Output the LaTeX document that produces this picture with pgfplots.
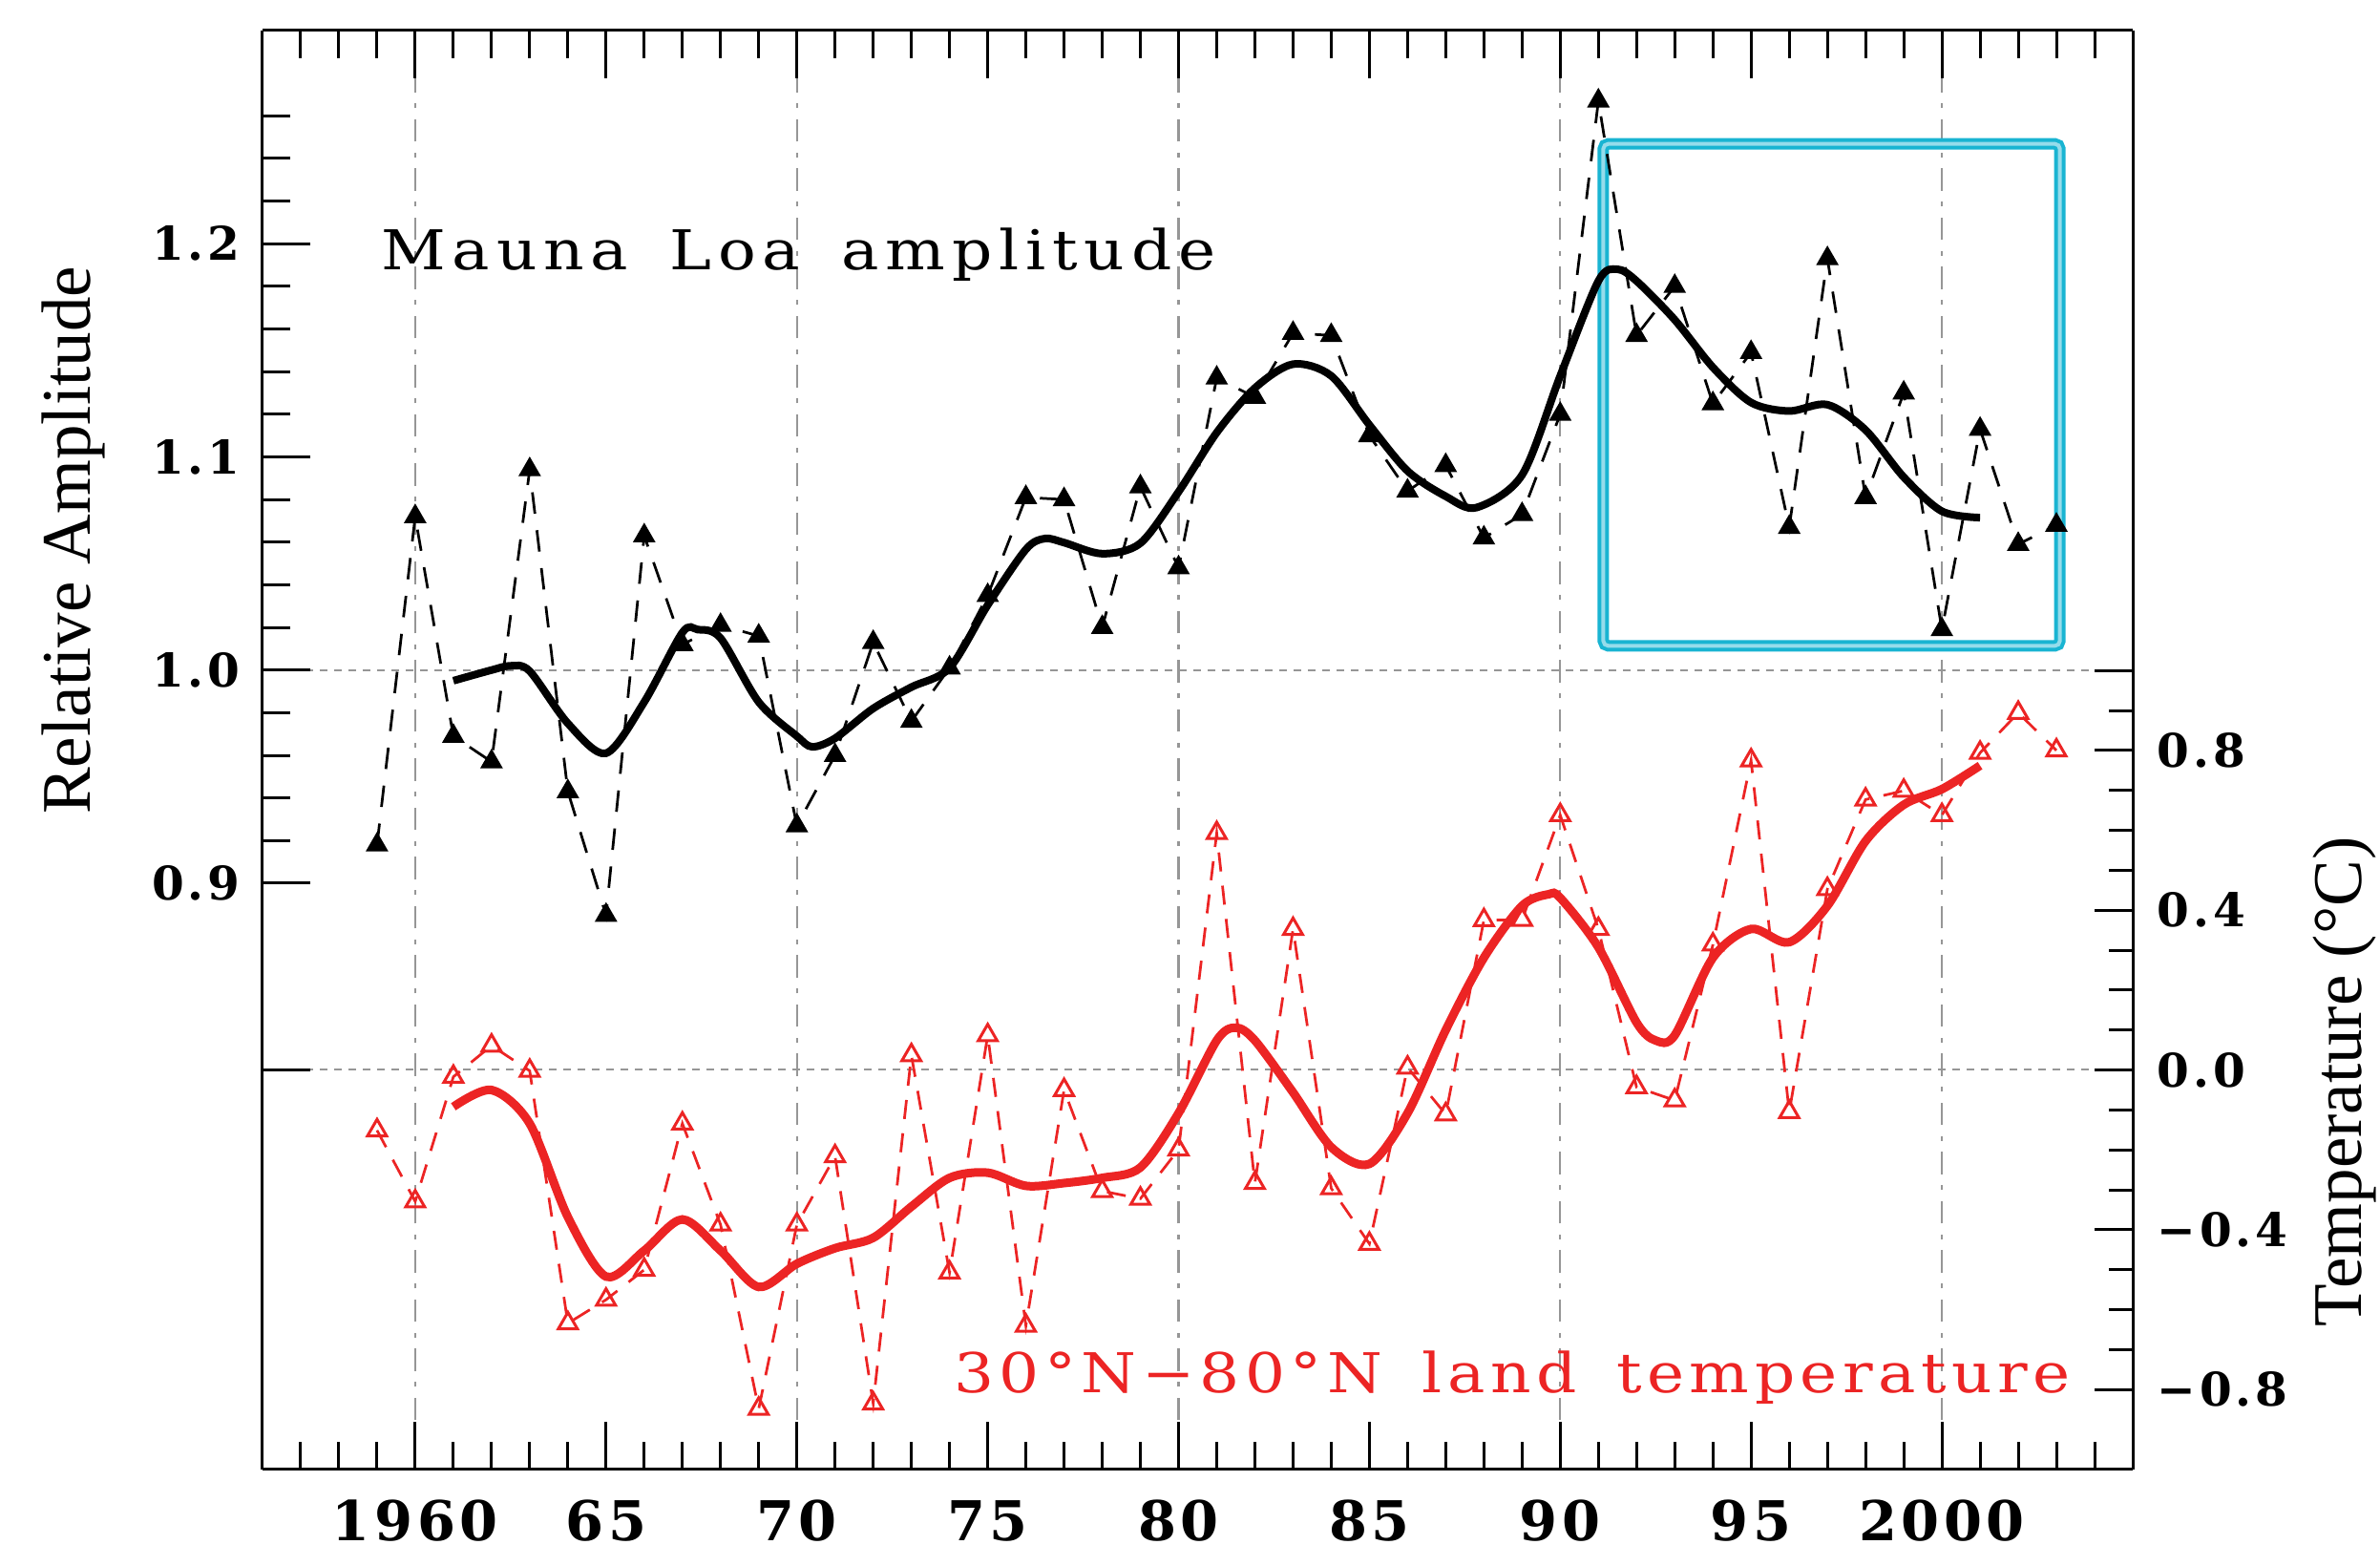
\documentclass[border=0pt]{standalone}
\usepackage{pgfplots}
\usepackage{pgfplotstable}
\pgfplotsset{compat=1.18}
\usepackage{fontspec}
\newfontfamily\tickfont[LetterSpace=8]{DejaVu Serif}
\newfontfamily\annfont[LetterSpace=12, FakeStretch=1.15]{DejaVu Serif}
\newfontfamily\annfontred[LetterSpace=9.5, FakeStretch=1.15]{DejaVu Serif}
\newfontfamily\axfont{Liberation Serif}
\definecolor{myred}{RGB}{236,36,36}
\definecolor{gridgray}{RGB}{150,150,150}
\definecolor{boxcyan}{RGB}{25,180,210}
\definecolor{boxcyanl}{RGB}{150,220,235}

\pgfplotstableread{
year amp
1959 0.918
1960 1.072
1961 0.969
1962 0.957
1963 1.094
1964 0.943
1965 0.885
1966 1.063
1967 1.012
1968 1.021
1969 1.016
1970 0.927
1971 0.960
1972 1.013
1973 0.976
1974 1.001
1975 1.035
1976 1.081
1977 1.080
1978 1.020
1979 1.086
1980 1.048
1981 1.137
1982 1.128
1983 1.158
1984 1.157
1985 1.110
1986 1.084
1987 1.096
1988 1.062
1989 1.073
1990 1.120
1991 1.267
1992 1.157
1993 1.180
1994 1.125
1995 1.149
1996 1.067
1997 1.193
1998 1.081
1999 1.130
2000 1.019
2001 1.113
2002 1.059
2003 1.068
}\amptable

\pgfplotstableread{
year amp
1961 0.995
1962 1.000
1962.5 1.002
1963 0.9995
1964 0.975
1965 0.961
1966 0.985
1967 1.0176
1967.4 1.019
1968 1.015
1969 0.985
1970 0.969
1970.4 0.964
1971 0.968
1972 0.982
1973 0.992
1974 1.001
1975 1.0305
1976 1.0566
1976.5 1.0617
1977 1.0598
1978 1.0546
1979 1.0595
1980 1.0836
1981 1.1114
1982 1.1323
1983 1.1435
1984 1.138
1985 1.115
1986 1.0934
1987 1.0815
1987.8 1.0762
1989 1.0915
1990 1.138
1991 1.1825
1991.5 1.188
1992 1.1825
1993 1.1643
1994 1.142
1995 1.1255
1996 1.1215
1997 1.1245
1998 1.1126
1999 1.0905
2000 1.0745
2001 1.0715
}\ampsmooth

\pgfplotstableread{
year temp
1959 -0.151
1960 -0.329
1961 -0.017
1962 0.061
1963 -0.002
1964 -0.634
1965 -0.575
1966 -0.500
1967 -0.134
1968 -0.387
1969 -0.848
1970 -0.387
1971 -0.216
1972 -0.835
1973 0.037
1974 -0.507
1975 0.087
1976 -0.640
1977 -0.050
1978 -0.303
1979 -0.322
1980 -0.199
1981 0.593
1982 -0.283
1983 0.353
1984 -0.296
1985 -0.435
1986 0.006
1987 -0.111
1988 0.375
1989 0.376
1990 0.638
1991 0.353
1992 -0.043
1993 -0.076
1994 0.314
1995 0.775
1996 -0.105
1997 0.453
1998 0.677
1999 0.699
2000 0.638
2001 0.794
2002 0.894
2003 0.800
}\temptable

\pgfplotstableread{
year temp
1961 -0.092
1962 -0.050
1963 -0.134
1964 -0.368
1965 -0.517
1966 -0.452
1967 -0.374
1968 -0.452
1969 -0.543
1970 -0.485
1971 -0.446
1972 -0.420
1973 -0.342
1974 -0.270
1975 -0.257
1976 -0.290
1977 -0.283
1978 -0.270
1979 -0.244
1980 -0.108
1981 0.074
1981.5 0.106
1982 0.074
1983 -0.056
1984 -0.193
1985 -0.235
1986 -0.108
1987 0.100
1988 0.281
1989 0.411
1989.7 0.440
1990 0.431
1991 0.307
1992 0.119
1992.5 0.074
1993 0.087
1994 0.281
1995 0.353
1996 0.320
1997 0.411
1998 0.573
1999 0.664
2000 0.703
2001 0.762
}\tempsmooth

\begin{document}
\begin{tikzpicture}
\begin{axis}[
  scale only axis, width=391.8pt, height=301.4pt,
  xmin=1956, xmax=2005, ymin=0.625, ymax=1.30,
  axis y line*=left, axis x line*=box,
  axis line style={line width=0.6pt},
  every tick/.style={black, line width=0.6pt},
  major tick length=10pt, minor tick length=5.8pt,
  xtick={1960,1965,1970,1975,1980,1985,1990,1995,2000},
  xticklabels={1960,65,70,75,80,85,90,95,2000},
  minor xtick={1957,1958,1959,1961,1962,1963,1964,1966,1967,1968,1969,1971,1972,1973,1974,1976,1977,1978,1979,1981,1982,1983,1984,1986,1987,1988,1989,1991,1992,1993,1994,1996,1997,1998,1999,2001,2002,2003,2004},
  extra x ticks={1960,1970,1980,1990,2000},
  extra x tick labels={,,,,},
  extra x tick style={grid=major, major grid style={gridgray, line width=0.45pt, dash pattern=on 4.7pt off 2.3pt on 1pt off 2.3pt}},
  ytick={0.9,1.1,1.2},
  yticklabels={0.9,1.1,1.2},
  minor ytick={0.92,0.94,0.96,0.98,1.02,1.04,1.06,1.08,1.12,1.14,1.16,1.18,1.22,1.24,1.26},
  extra y ticks={0.8125,1.0},
  extra y tick labels={,1.0},
  extra y tick style={grid=major, major grid style={gridgray, line width=0.45pt, dash pattern=on 1.6pt off 1.4pt}},
  xticklabel style={font=\fontsize{11.5}{13}\selectfont\tickfont\bfseries, yshift=-2.9pt},
  yticklabel style={font=\fontsize{9.7}{11}\selectfont\tickfont\bfseries, xshift=-1.2pt},
  clip=false,
]
\draw[boxcyan, line width=0.8pt, double=boxcyanl, double distance=0.8pt, rounded corners=1pt]
  (axis cs:1991.13,1.0114) rectangle (axis cs:2003.09,1.2468);
\addplot[black, line width=0.55pt, dash pattern=on 4.5pt off 3.5pt, mark=triangle*, mark size=2.2pt, mark options={solid, fill=black}] table[x=year, y=amp] {\amptable};
\addplot[black, line width=1.6pt, smooth, no marks] table[x=year, y=amp] {\ampsmooth};
\node[anchor=base west, inner sep=0pt, font=\fontsize{11.5}{13}\selectfont\annfont] at (axis cs:1959.08,1.1877) {Mauna\hspace{3pt} Loa\hspace{3pt} amplitude};
\node[anchor=base west, inner sep=0pt, text=myred, font=\fontsize{11.5}{13}\selectfont\annfontred] at (axis cs:1974.09,0.6609) {30°N−80°N\hspace{3pt} land\hspace{3pt} temperature};
\node[rotate=90, anchor=base, font=\fontsize{14.6}{16}\selectfont\axfont] at ([xshift=-36pt]rel axis cs:0,0.6457) {Relative Amplitude};
\node[rotate=90, anchor=base, font=\fontsize{14.6}{16}\selectfont\axfont] at ([xshift=47.8pt]rel axis cs:1,0.2694) {Temperature (°C)};
\end{axis}
\begin{axis}[
  scale only axis, width=391.8pt, height=301.4pt,
  xmin=1956, xmax=2005, ymin=-1.0, ymax=2.602,
  axis y line*=right, axis x line=none,
  axis line style={line width=0.6pt},
  every tick/.style={black, line width=0.6pt},
  major tick length=8pt, minor tick length=5pt,
  ytick={-0.8,-0.4,0,0.4,0.8,1.0},
  yticklabels={−0.8,−0.4,0.0,0.4,0.8,},
  minor ytick={-0.7,-0.6,-0.5,-0.3,-0.2,-0.1,0.1,0.2,0.3,0.5,0.6,0.7,0.9},
  yticklabel style={font=\fontsize{9.7}{11}\selectfont\tickfont\bfseries, xshift=1.6pt},
  clip=false,
]
\addplot[myred, line width=0.55pt, dash pattern=on 4pt off 3pt, mark=triangle, mark size=2.3pt, mark options={solid, line width=0.6pt}] table[x=year, y=temp] {\temptable};
\addplot[myred, line width=1.8pt, smooth, no marks] table[x=year, y=temp] {\tempsmooth};
\end{axis}
\pgfresetboundingbox
\path[use as bounding box] (-55pt,-20.2pt) rectangle (443.6pt,307.8pt);
\end{tikzpicture}
\end{document}
